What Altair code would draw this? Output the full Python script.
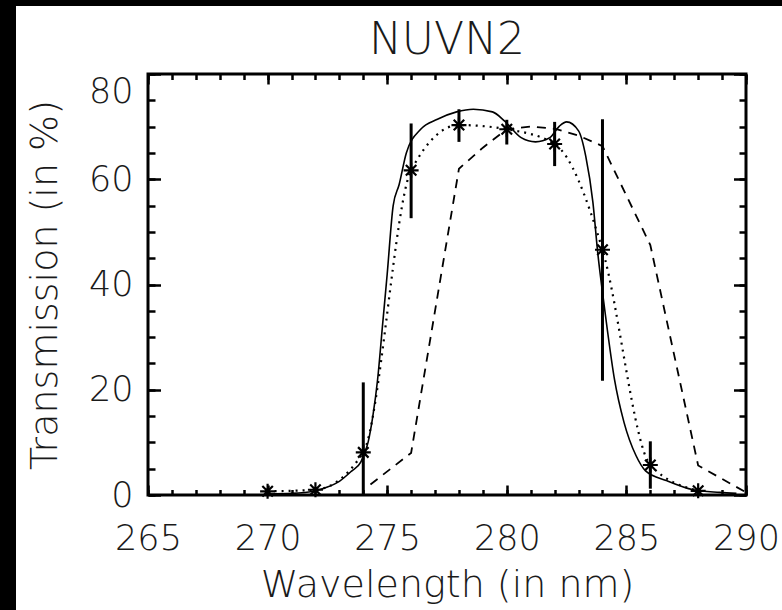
import altair as alt
import pandas as pd

# ---------------- data ----------------
# solid curve (filter transmission)
solid_wl = [270.0, 271.0, 272.0, 272.5, 273.0, 273.5, 273.9, 274.2, 274.4, 274.6,
            274.8, 275.0, 275.25, 275.5, 275.8, 276.4, 277.1, 277.9, 278.6, 279.4,
            279.9, 280.6, 281.2, 281.8, 282.2, 282.5, 283.0, 283.3, 283.6, 283.8,
            284.0, 284.2, 284.5, 284.9, 285.4, 285.8, 286.7, 287.8, 288.9, 289.6]
solid_tr = [0.2, 0.3, 0.8, 1.5, 2.6, 4.5, 6.3, 10.0, 15.0, 22.0,
            32.0, 42.0, 55.0, 59.0, 65.0, 69.5, 71.4, 72.8, 73.3, 72.8,
            71.1, 67.9, 67.1, 67.9, 70.1, 70.9, 69.2, 64.4, 55.6, 46.1,
            38.5, 31.5, 22.0, 13.8, 7.5, 4.6, 2.7, 1.0, 0.5, 0.3]

# dashed curve
dash_wl = [274.3, 276.0, 278.0, 279.0, 280.0, 281.0, 282.0, 283.0, 284.0, 286.0, 288.0, 290.0]
dash_tr = [2.0, 8.0, 62.0, 66.0, 69.5, 70.0, 69.6, 68.3, 66.3, 47.5, 5.6, 0.5]

# measured points (asterisks) with error bars, joined by the dotted curve
meas_wl = [270, 272, 274, 276, 278, 280, 282, 284, 286, 288]
meas_tr = [0.7, 1.0, 8.1, 61.7, 70.3, 69.5, 66.7, 46.6, 5.7, 0.8]
err_lo = [0.2, 0.5, 0.0, 52.6, 67.1, 66.6, 62.5, 21.7, 1.2, 0.3]
err_hi = [1.2, 1.5, 21.4, 70.6, 73.3, 71.3, 70.9, 71.4, 10.2, 1.3]

# axis ticks
x_major = [265, 270, 275, 280, 285, 290]
x_minor = list(range(265, 291))
y_major = [0, 20, 40, 60, 80]
y_minor = list(range(0, 81, 5))

FONT = "DejaVu Sans"
TXT = "#1a1a1a"
WEIGHT = 300
W, H = 598, 421

solid_df = pd.DataFrame({"wl": solid_wl, "tr": solid_tr})
dash_df = pd.DataFrame({"wl": dash_wl, "tr": dash_tr})
meas_df = pd.DataFrame({"wl": meas_wl, "tr": meas_tr, "lo": err_lo, "hi": err_hi})

xs = alt.Scale(domain=[265, 290], nice=False, zero=False)
ys = alt.Scale(domain=[0, 80], nice=False, zero=False)


def tick_axis(orient, values, length):
    return alt.Axis(orient=orient, values=values, offset=-length, tickSize=length,
                    tickWidth=2.5, tickColor="black", labels=False, domain=False,
                    grid=False, title=None)


# labelled axes
x_lab = alt.Axis(orient="bottom", values=x_major, ticks=False, tickSize=0, domain=False,
                 grid=False, labelFont=FONT, labelFontSize=35, labelColor=TXT,
                 labelFontWeight=WEIGHT, labelFlush=False, labelOverlap=False,
                 labelPadding=54, labelBaseline="alphabetic", format="d",
                 title="Wavelength (in nm)", titleFont=FONT, titleFontSize=38,
                 titleFontWeight=WEIGHT, titleColor=TXT, titleBaseline="alphabetic",
                 titleY=101)
y_lab = alt.Axis(orient="left", values=y_major, ticks=False, tickSize=0, domain=False,
                 grid=False, labelFont=FONT, labelFontSize=35, labelColor=TXT,
                 labelFontWeight=WEIGHT, labelFlush=False, labelOverlap=False,
                 labelPadding=15, format="d",
                 labelBaseline={"condition": {"test": "datum.value === 80", "value": "top"},
                                "value": "middle"},
                 title="Transmission (in %)", titleFont=FONT, titleFontSize=38,
                 titleFontWeight=WEIGHT, titleColor=TXT, titleBaseline="alphabetic",
                 titleAngle=270, titleAlign="center", titleX=-92, titleY=H / 2)

solid = alt.Chart(solid_df).mark_line(color="black", strokeWidth=1.6,
                                      interpolate="monotone").encode(
    x=alt.X("wl:Q", scale=xs, axis=x_lab),
    y=alt.Y("tr:Q", scale=ys, axis=y_lab),
)

dashed = alt.Chart(dash_df).mark_line(color="black", strokeWidth=1.8,
                                      strokeDash=[9, 7]).encode(
    x=alt.X("wl:Q", scale=xs, axis=tick_axis("bottom", x_major, 10)),
    y=alt.Y("tr:Q", scale=ys, axis=tick_axis("left", y_major, 12.5)),
)

dotted = alt.Chart(meas_df).mark_line(color="black", strokeWidth=2.2,
                                      strokeDash=[2, 5], interpolate="monotone").encode(
    x=alt.X("wl:Q", scale=xs, axis=tick_axis("bottom", x_minor, 5.5)),
    y=alt.Y("tr:Q", scale=ys, axis=tick_axis("left", y_minor, 7)),
)

errs = alt.Chart(meas_df).mark_rule(color="black", strokeWidth=3).encode(
    x=alt.X("wl:Q", scale=xs, axis=tick_axis("top", x_major, 10)),
    y=alt.Y("lo:Q", scale=ys, axis=tick_axis("right", y_major, 12.5)),
    y2="hi:Q",
)

ASTERISK = "M-1,0L1,0M0,-1L0,1M-0.7,-0.7L0.7,0.7M-0.7,0.7L0.7,-0.7"
stars = alt.Chart(meas_df).mark_point(shape=ASTERISK, size=225, color="black",
                                      strokeWidth=2.2, filled=False, opacity=1).encode(
    x=alt.X("wl:Q", scale=xs, axis=tick_axis("top", x_minor, 5.5)),
    y=alt.Y("tr:Q", scale=ys, axis=tick_axis("right", y_minor, 7)),
)

# black strips along the left and top edges of the reference picture
edge_df = pd.DataFrame({"k": [0]})
left_strip = alt.Chart(edge_df).mark_rect(color="black").encode(
    x=alt.value(-148), x2=alt.value(-132), y=alt.value(-74), y2=alt.value(H + 115))
top_strip = alt.Chart(edge_df).mark_rect(color="black").encode(
    x=alt.value(-148), x2=alt.value(W + 36), y=alt.value(-74), y2=alt.value(-68))

chart = alt.layer(
    left_strip, top_strip, solid, dashed, dotted, errs, stars
).resolve_axis(
    x="independent", y="independent"
).properties(
    width=W, height=H,
    title=alt.TitleParams("NUVN2", font=FONT, fontSize=44, fontWeight=WEIGHT,
                          color=TXT, anchor="middle", baseline="alphabetic",
                          offset=0, dy=98),
    autosize=alt.AutoSizeParams(type="none"),
    padding={"left": 148, "top": 74, "right": 36, "bottom": 115},
    background="white",
).configure_view(
    stroke="black", strokeWidth=3
)

chart.save("out.html", embed_options={"renderer": "svg", "actions": False})
